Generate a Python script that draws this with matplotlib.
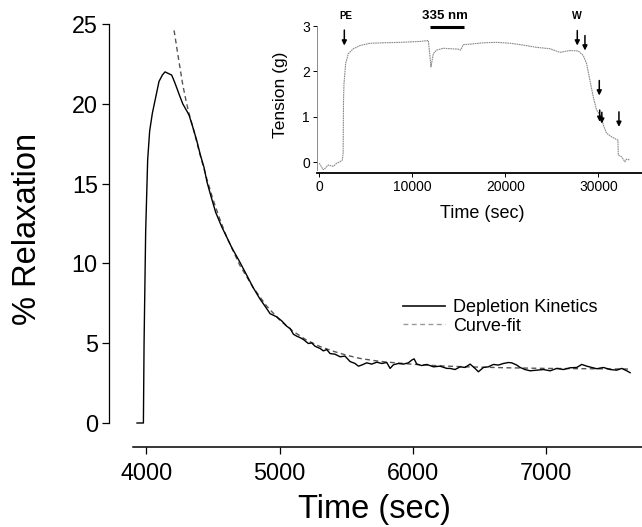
import matplotlib
matplotlib.use("Agg")
import matplotlib.pyplot as plt

plt.rcParams['font.family'] = ['Liberation Sans', 'DejaVu Sans']

# ---------------- main data ----------------
depletion_t = [3930, 3978, 3983, 3995, 4010, 4025, 4045, 4065, 4095, 4120, 4140, 4165, 4190,
               4210, 4228, 4250, 4273, 4300, 4320, 4350, 4378, 4405, 4433, 4455, 4478, 4520,
               4565, 4600, 4640, 4700, 4763, 4800, 4850, 4900,
               4928, 4953, 4978, 5015, 5053, 5078, 5103, 5128, 5153, 5178, 5215, 5240, 5265,
               5303, 5328, 5353, 5378, 5415, 5453, 5490, 5528, 5565, 5590, 5615, 5653, 5690,
               5728, 5765, 5803, 5828, 5853, 5890, 5928, 5965, 5990, 6008, 6028, 6065, 6103,
               6153, 6203, 6253,
               6278, 6315, 6353, 6390, 6428, 6465, 6490, 6528, 6565, 6603, 6640, 6678, 6715,
               6740, 6778, 6803, 6840, 6878, 6928, 6978, 7028, 7078, 7128, 7178, 7228, 7265,
               7303, 7340, 7378, 7428, 7478, 7528, 7565, 7603, 7628]
depletion_v = [0.0, 0.0, 5.0, 12.0, 16.5, 18.3, 19.4, 20.2, 21.4, 21.8, 22.0, 21.9, 21.8,
               21.4, 21.0, 20.5, 20.0, 19.6, 19.3, 18.5, 17.7, 16.8, 16.0, 15.1, 14.4, 13.2,
               12.3, 11.7, 11.0, 10.1, 9.1, 8.5, 7.8, 7.2,
               6.85, 6.75, 6.65, 6.40, 6.06, 5.92, 5.56, 5.44, 5.35, 5.23, 4.98, 5.02, 4.81,
               4.67, 4.52, 4.60, 4.35, 4.31, 4.15, 4.19, 3.85, 3.73, 3.56, 3.63, 3.77, 3.69,
               3.81, 3.73, 3.79, 3.42, 3.65, 3.73, 3.69, 3.77, 3.94, 4.02, 3.69, 3.60, 3.67,
               3.52, 3.56, 3.42,
               3.42, 3.35, 3.52, 3.48, 3.69, 3.42, 3.21, 3.48, 3.52, 3.67, 3.63, 3.73, 3.79,
               3.77, 3.63, 3.48, 3.35, 3.27, 3.31, 3.35, 3.27, 3.42, 3.35, 3.46, 3.48, 3.67,
               3.56, 3.48, 3.40, 3.48, 3.35, 3.31, 3.42, 3.27, 3.15]

fit_t = [4208, 4240, 4273, 4300, 4320, 4350, 4400, 4450, 4500, 4550, 4600, 4700, 4800, 4900,
         5000, 5100, 5200, 5300, 5400, 5500, 5600, 5700, 5800, 6000, 6200, 6400, 6700, 7000,
         7300, 7630]
fit_v = [24.6, 22.9, 21.2, 20.1, 19.4, 18.5, 16.9, 15.4, 14.0, 12.8, 11.7, 9.9, 8.5, 7.35,
         6.45, 5.75, 5.2, 4.8, 4.5, 4.25, 4.05, 3.92, 3.82, 3.68, 3.58, 3.52, 3.46, 3.42,
         3.40, 3.38]

main_xticks = [4000, 5000, 6000, 7000]
main_yticks = [0, 5, 10, 15, 20, 25]

# ---------------- inset data ----------------
tension_t = [0, 430, 968, 1505, 1864, 2222, 2473, 2560, 2600, 2652, 2831, 3118, 3656, 4372,
             5448, 6881, 8673, 10824, 11720, 11780, 12006, 12257, 12616, 13333, 14049, 14945,
             15196, 15483, 16200, 17633, 19067, 20500, 21934, 23368, 24801, 25876, 26951,
             27848, 28385, 28744, 29102, 29460, 29819, 30177, 30356, 30607, 30894, 31431,
             31969, 32112, 32148, 32507, 32866, 33045, 33404]
tension_v = [-0.02, -0.17, -0.06, -0.09, -0.02, 0.01, 0.05, 0.2, 1.36, 1.73, 2.17, 2.39,
             2.5, 2.57, 2.62, 2.63, 2.64, 2.66, 2.68, 2.57, 2.1, 2.39, 2.47, 2.51, 2.5, 2.49,
             2.47, 2.59, 2.6, 2.63, 2.64, 2.62, 2.58, 2.53, 2.5, 2.42, 2.46, 2.45, 2.35, 2.17,
             1.8, 1.44, 1.15, 1.04, 0.96, 0.78, 0.64, 0.56, 0.5, 0.49, 0.16, 0.12, 0.01,
             0.07, 0.05]

inset_xticks = [0, 10000, 20000, 30000]
inset_yticks = [0, 1, 2, 3]

arrow_t = [2688, 27740, 28565, 30106, 30150, 30380, 32220]
arrow_top = [2.91, 2.90, 2.79, 1.80, 1.15, 1.10, 1.11]
arrow_bottom = [2.57, 2.57, 2.46, 1.47, 0.89, 0.85, 0.78]

uv_bar_t = [11903, 15559]
uv_bar_v = 2.97

# ---------------- figure ----------------
W, H = 642, 527
fig = plt.figure(figsize=(W / 100, H / 100), dpi=100)

ax = fig.add_axes([133 / W, (H - 423) / H, (W - 133) / W, (423 - 24) / H])
ax.plot(depletion_t, depletion_v, color='black', lw=1.0, label='Depletion Kinetics',
        clip_on=False, zorder=3)
ax.plot(fit_t, fit_v, color='#555555', lw=1.0, ls=(0, (3.5, 2.5)), label='Curve-fit',
        clip_on=False, zorder=2)
ax.set_xlim(3900, 7717)
ax.set_ylim(0, 25)
ax.set_xticks(main_xticks)
ax.set_yticks(main_yticks)
for s in ['top', 'right']:
    ax.spines[s].set_visible(False)
ax.spines['left'].set_position(('outward', 17.3))
ax.spines['bottom'].set_position(('outward', 17.3))
ax.spines['left'].set_bounds(0, 25)
ax.spines['left'].set_linewidth(0.9)
ax.spines['bottom'].set_linewidth(1.1)
ax.tick_params(direction='out', length=5, width=0.9, labelsize=16.8, pad=3)
ax.tick_params(axis='x', pad=6)
ax.set_xlabel('Time (sec)', fontsize=23.5)
ax.set_ylabel('% Relaxation', fontsize=23.5)
ax.xaxis.set_label_coords(0.474, -0.178)
ax.yaxis.set_label_coords(-0.177, 0.486)

leg = ax.legend(loc='upper left', bbox_to_anchor=((403 - 133) / 509, (423 - 299) / 399),
                frameon=False, fontsize=13, handlelength=2.3, handletextpad=0.45,
                labelspacing=0.1, borderpad=0, borderaxespad=0)
leg.get_lines()[0].set_linewidth(1.3)
leg.get_lines()[0].set_color('#222222')
leg.get_lines()[1].set_color('#999999')

# ---------------- inset ----------------
ai = fig.add_axes([317 / W, (H - 170) / H, (W - 317) / W, (170 - 26) / H])
ai.plot(tension_t, tension_v, color='#8a8a8a', lw=0.8, ls=(0, (1.5, 0.6)))
ai.set_xlim(-250, 34700)
ai.set_ylim(-0.17, 3.0)
ai.set_xticks(inset_xticks)
ai.set_yticks(inset_yticks)
for s in ['top', 'right']:
    ai.spines[s].set_visible(False)
ai.spines['bottom'].set_position(('outward', 2.5))
ai.spines['bottom'].set_linewidth(1.3)
ai.spines['left'].set_linewidth(0.6)
ai.spines['left'].set_color('#777777')
ai.tick_params(direction='out', length=3, width=0.7, labelsize=10, pad=2)
ai.set_xlabel('Time (sec)', fontsize=13)
ai.set_ylabel('Tension (g)', fontsize=12.5)
ai.xaxis.set_label_coords((482.5 - 317) / 325, -0.24)
ai.yaxis.set_label_coords(-0.09, 0.52)

for t, y0, y1 in zip(arrow_t, arrow_top, arrow_bottom):
    ai.annotate('', xy=(t, y1), xytext=(t, y0),
                arrowprops=dict(arrowstyle='-|>', color='black', lw=1.1,
                                mutation_scale=7, shrinkA=0, shrinkB=0),
                annotation_clip=False)
ai.plot(uv_bar_t, [uv_bar_v, uv_bar_v], color='black', lw=2.2, clip_on=False,
        solid_capstyle='butt')
ai.text(2900, 3.22, 'PE', fontsize=7, fontweight='bold', ha='center', va='center')
ai.text(13500, 3.22, '335 nm', fontsize=9.5, fontweight='bold', ha='center', va='center')
ai.text(27650, 3.22, 'W', fontsize=7.5, fontweight='bold', ha='center', va='center')

fig.savefig('out.png', dpi=100)
